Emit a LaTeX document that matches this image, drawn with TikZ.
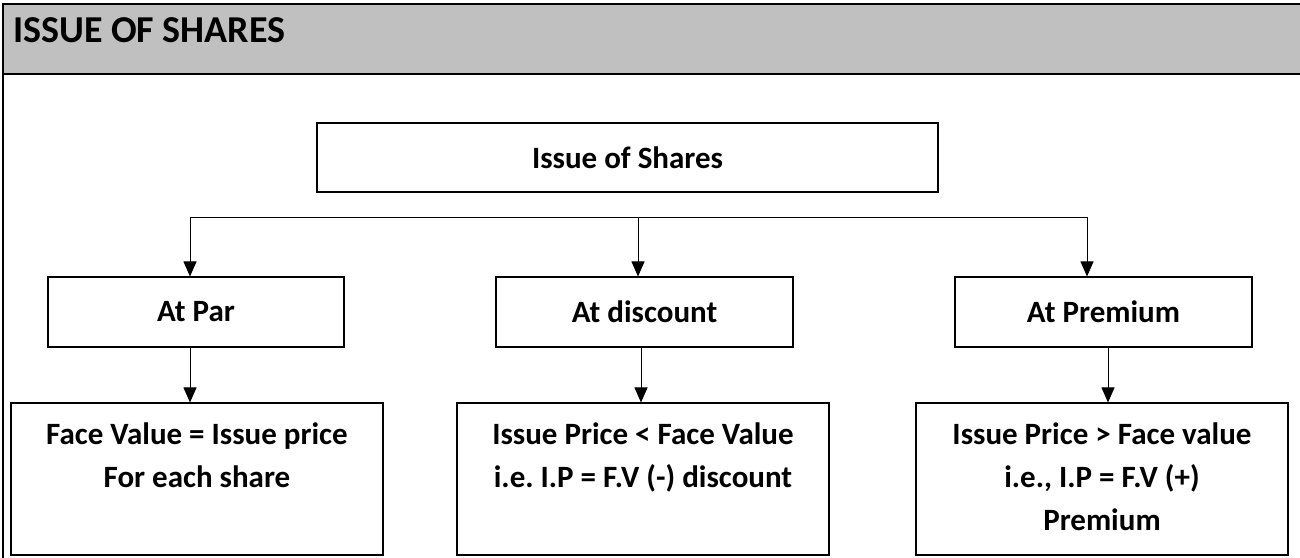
\documentclass[tikz,border=0pt]{standalone}
\usepackage{fontspec}
\setmainfont{Carlito}
\usetikzlibrary{arrows.meta}
\definecolor{headgray}{RGB}{192,192,192}
\frenchspacing

\begin{document}
\begin{tikzpicture}[x=1pt, y=-1pt,
        sharebox/.style={draw, line width=1.1pt, inner sep=0pt, minimum height=70pt},
        boxtext/.style={font=\fontsize{31}{43}\selectfont\bfseries, align=center, inner sep=0pt},
        arr/.style={line width=1pt, -{Triangle[length=15pt, width=13pt]}}]
        \useasboundingbox (0,0) rectangle (1300,557);

        % frame and heading
        \fill[headgray] (3,4) rectangle (1302,74);
        \draw[line width=2.6pt] (3,74) -- (1302,74);
        \draw[line width=2.6pt] (3,560) -- (3,4) -- (1302,4);
        \node[anchor=base west, inner sep=0pt, font=\fontsize{38}{42}\selectfont\bfseries] (title) at (13,42) {ISSUE OF SHARES};

        % top box
        \node[sharebox, minimum width=621pt, minimum height=69pt, boxtext] (issue) at (627.5,157.5) {Issue of Shares};

        % second row
        \node[sharebox, minimum width=296pt, boxtext] (par) at (196,312) {At Par};
        \node[sharebox, minimum width=297pt, boxtext] (disc) at (644.5,312) {At discount};
        \node[sharebox, minimum width=297pt, boxtext] (prem) at (1103.5,312) {At Premium};

        % third row
        \node[sharebox, minimum width=372pt, minimum height=152pt] (parval) at (197,479) {};
        \node[sharebox, minimum width=372pt, minimum height=152pt] (discval) at (643,479) {};
        \node[sharebox, minimum width=372pt, minimum height=152pt] (premval) at (1102,479) {};
        \node[boxtext, anchor=north] (partxt) at ([yshift=-20pt]parval.north) {Face Value = Issue price\\For each share};
        \node[boxtext, anchor=north] (disctxt) at ([yshift=-20pt]discval.north) {Issue Price {<} Face Value\\i.e. I.P = F.V (-) discount};
        \node[boxtext, anchor=north] (premtxt) at ([yshift=-20pt]premval.north) {Issue Price {>} Face value\\i.e., I.P = F.V (+)\\Premium};

        % branches
        \coordinate (bl) at (190,217);
        \coordinate (bm) at (638,217);
        \coordinate (br) at (1087,217);
        \draw[line width=1pt] (bl) -- (br);
        \draw[arr] (bl) -- (bl |- par.north);
        \draw[arr] (bm) -- (bm |- disc.north);
        \draw[arr] (br) -- (br |- prem.north);

        \draw[arr] (par.south -| bl) -- (parval.north -| bl);
        \draw[arr] ([xshift=-3.5pt]disc.south) -- ([xshift=-3.5pt]disc.south |- discval.north);
        \draw[arr] ([xshift=4.5pt]prem.south) -- ([xshift=4.5pt]prem.south |- premval.north);
\end{tikzpicture}
\end{document}
